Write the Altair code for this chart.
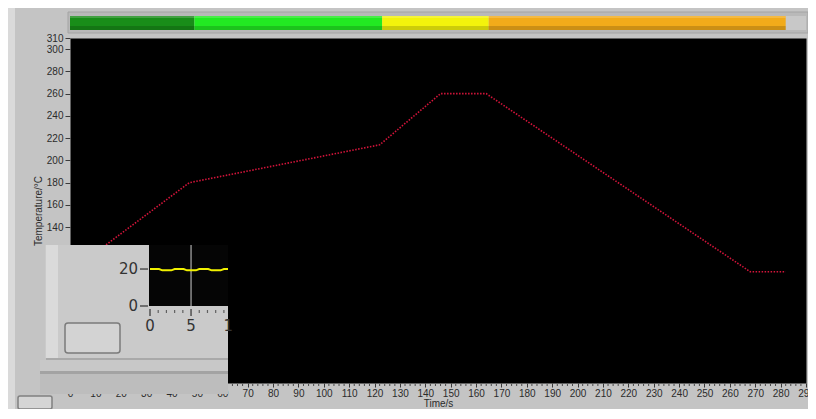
import altair as alt
import pandas as pd

# ---------------- data ----------------
time_s = [0, 47, 122, 146, 164, 268, 282]
temperature_c = [100, 180, 214, 260, 260, 100, 100]

phase_names = ["Preheat", "Soak", "Reflow", "Cooling"]
phase_start = [0, 49, 123, 165]
phase_end = [49, 123, 165, 282]
phase_colors = ["#198d19", "#22ea22", "#f3f30c", "#f2ab1a"]

x_tick_values = [0, 10, 20, 30, 40, 50, 60, 70, 80, 90, 100, 110, 120, 130, 140,
                 150, 160, 170, 180, 190, 200, 210, 220, 230, 240, 250, 260, 270, 280, 290]
y_tick_values = [140, 160, 180, 200, 220, 240, 260, 280, 300, 310]

# small inset window (partly visible)
inset_time = [0, 1.1, 1.5, 2.6, 3.0, 4.1, 4.5, 5.6, 6.0, 7.1, 7.5, 8.6, 9.0, 9.5]
inset_value = [20, 20, 19.3, 19.3, 20, 20, 19.3, 19.3, 20, 20, 19.3, 19.3, 20, 20]
inset_x_ticks = [0, 5]
inset_x_labels = ["0", "5"]
inset_x_minor = [1, 2, 3, 4, 6, 7, 8, 9]
inset_y_ticks = [0, 20]
inset_y_labels = ["0", "20"]
inset_cursor = [5]

# ---------------- layout ----------------
W, H = 736, 345
OX, OY = 70, 38  # page position of the plot origin
FONT = "Liberation Sans Narrow, Liberation Sans"
BIG = "DejaVu Sans"

one = pd.DataFrame({"k": [0]})


def box(x1, y1, x2, y2, fill, **kw):
    return alt.Chart(one).mark_rect(fill=fill, **kw).encode(
        x=alt.value(x1 - OX), x2=alt.value(x2 - OX),
        y=alt.value(y1 - OY), y2=alt.value(y2 - OY))


x_main = alt.Scale(domain=[0, 290], nice=False, zero=False)
y_main = alt.Scale(domain=[0, 310], nice=False, zero=False)

x_axis = alt.Axis(
    values=x_tick_values, title="Time/s", orient="bottom", tickSize=4,
    tickColor="#3a3a3a", labelFont=FONT, labelFontSize=10, labelColor="#2b2b2b",
    labelPadding=1, labelOverlap=False, labelFlush=False, domain=False, grid=False,
    titleFont=FONT, titleFontSize=10, titleFontWeight="normal",
    titleColor="#2b2b2b", titlePadding=0)
y_axis = alt.Axis(
    values=y_tick_values, title="Temperature/°C", orient="left", tickSize=5,
    tickColor="#3a3a3a", labelFont=FONT, labelFontSize=10, labelColor="#2b2b2b",
    labelPadding=2, labelOverlap=False, labelFlush=False, domain=False, grid=False,
    titleFont=FONT, titleFontSize=10, titleFontWeight="normal",
    titleColor="#2b2b2b", titlePadding=3)

profile_df = pd.DataFrame({"time": time_s, "temp": temperature_c})
phase_df = pd.DataFrame({"phase": phase_names, "start": phase_start,
                         "end": phase_end, "color": phase_colors})

frame = box(68, 12, OX + W + 2, 33, "#b9b9b9", stroke="#a4a4a4", strokeWidth=1)
track = box(70, 16, OX + W, 30, "#c8c8c8")

bars = alt.Chart(phase_df).mark_rect().encode(
    x=alt.X("start:Q", scale=x_main, axis=x_axis), x2="end:Q",
    y=alt.value(16 - OY), y2=alt.value(30 - OY),
    fill=alt.Fill("color:N", scale=None))
shade = alt.Chart(phase_df).mark_rect(fill="#000000", opacity=0.16).encode(
    x=alt.X("start:Q", scale=x_main, axis=x_axis), x2="end:Q",
    y=alt.value(26 - OY), y2=alt.value(30 - OY))
shine = alt.Chart(phase_df).mark_rect(fill="#ffffff", opacity=0.18).encode(
    x=alt.X("start:Q", scale=x_main, axis=x_axis), x2="end:Q",
    y=alt.value(16 - OY), y2=alt.value(18 - OY))

line = alt.Chart(profile_df).mark_line(
    color="#d3143a", strokeWidth=1.6, strokeDash=[1.5, 1.5]).encode(
    x=alt.X("time:Q", scale=x_main, axis=x_axis),
    y=alt.Y("temp:Q", scale=y_main, axis=y_axis))

minor = alt.Chart(alt.sequence(0, 291, 2, as_="t")).transform_filter(
    "datum.t % 10 != 0").mark_rule(color="#4a4a4a", strokeWidth=1).encode(
    x=alt.X("t:Q", scale=x_main, axis=x_axis),
    y=alt.value(H + 1), y2=alt.value(H + 3))

main = alt.layer(frame, track, bars, shade, shine, line, minor)

# ---------------- inset window overlay ----------------
mini_x = alt.Scale(domain=[0, 9.5], range=[80, 158], nice=False, zero=False)
mini_y = alt.Scale(domain=[0, 33], range=[268, 207], nice=False, zero=False)

inset_df = pd.DataFrame({"t": inset_time, "v": inset_value})
xt_df = pd.DataFrame({"v": inset_x_ticks, "label": inset_x_labels})
yt_df = pd.DataFrame({"v": inset_y_ticks, "label": inset_y_labels})
xm_df = pd.DataFrame({"v": inset_x_minor})
cur_df = pd.DataFrame({"v": inset_cursor})

mini_line = alt.Chart(inset_df).mark_line(color="#f2f200", strokeWidth=2).encode(
    x=alt.X("t:Q", scale=mini_x, axis=None), y=alt.Y("v:Q", scale=mini_y, axis=None))
cursor = alt.Chart(cur_df).mark_rule(color="#8c8c8c", strokeWidth=1.5).encode(
    x=alt.X("v:Q", scale=mini_x, axis=None), y=alt.value(207), y2=alt.value(268))
y_ticks = alt.Chart(yt_df).mark_rule(color="#505050", strokeWidth=1.5).encode(
    y=alt.Y("v:Q", scale=mini_y, axis=None), x=alt.value(70), x2=alt.value(78))
y_labels = alt.Chart(yt_df).mark_text(font=BIG, fontSize=15, color="#333333",
                                       align="right", baseline="middle").encode(
    y=alt.Y("v:Q", scale=mini_y, axis=None), x=alt.value(68), text="label:N")
x_major = alt.Chart(xt_df).mark_rule(color="#505050", strokeWidth=1.5).encode(
    x=alt.X("v:Q", scale=mini_x, axis=None), y=alt.value(271), y2=alt.value(278))
x_minor = alt.Chart(xm_df).mark_rule(color="#606060", strokeWidth=1.2).encode(
    x=alt.X("v:Q", scale=mini_x, axis=None), y=alt.value(272), y2=alt.value(275))
x_labels = alt.Chart(xt_df).mark_text(font=BIG, fontSize=15, color="#333333",
                                       align="center", baseline="middle").encode(
    x=alt.X("v:Q", scale=mini_x, axis=None), y=alt.value(288), text="label:N")
x_cut = alt.Chart(pd.DataFrame({"v": [10], "label": ["1"]})).mark_text(
    font=BIG, fontSize=15, color="#333333", align="right", baseline="middle", dx=1).encode(
    x=alt.X("v:Q", scale=mini_x, axis=None), y=alt.value(288), text="label:N")

overlay = alt.layer(
    box(8, 8, 15, 409, "#dadada"),
    box(40, 360, 228, 371, "#c8c8c8"),
    box(40, 371, 228, 374, "#a3a3a3"),
    box(40, 374, 228, 394, "#bdbdbd"),
    box(45, 245, 228, 358, "#cacaca"),
    box(46, 245, 58, 358, "#dadada"),
    box(46, 358, 228, 360, "#a9a9a9"),
    box(149, 245, 228, 306, "#050505"),
    cursor, mini_line, y_ticks, y_labels, x_major, x_minor, x_labels, x_cut,
    box(65, 323, 120, 353, "#d3d3d3", stroke="#7b7b7b", strokeWidth=1.5, cornerRadius=3),
    box(18, 396, 52, 409, "#d5d5d5", stroke="#808080", strokeWidth=1.5, cornerRadius=2),
)

chart = alt.layer(main, overlay).resolve_scale(
    x="independent", y="independent").properties(
    width=W, height=H,
    padding={"left": 62, "top": 30, "right": 2, "bottom": 26},
    autosize=alt.AutoSizeParams(type="none"),
    background="#c4c4c4",
).configure_view(fill="#000000", stroke="transparent")

chart.save("out.html", embed_options={"renderer": "svg", "actions": False})
